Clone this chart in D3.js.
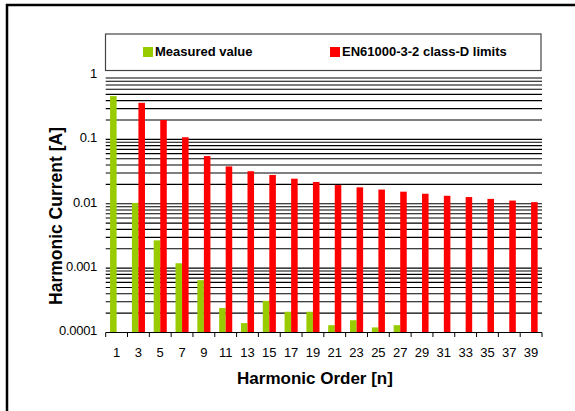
<!DOCTYPE html>
<html>
<head>
<meta charset="utf-8">
<script src="https://cdn.jsdelivr.net/npm/d3@7"></script>
<style>
  body { margin: 0; background: #fff; }
  svg { display: block; font-family: "Liberation Sans", Arial, sans-serif; }
</style>
</head>
<body>
<svg width="575" height="411"></svg>
<script>
// harmonic orders (odd only)
const orders = [1, 3, 5, 7, 9, 11, 13, 15, 17, 19, 21, 23, 25, 27, 29, 31, 33, 35, 37, 39];
// measured harmonic current [A], null = nothing shown
const measured = [0.47, 0.0103, 0.0027, 0.00119, 0.00065, 0.00024, 0.00014, 0.00031, 0.00021, 0.00021,
    0.00013, 0.000155, 0.00012, 0.00013, null, null, null, null, null, null];
// EN61000-3-2 class D limits [A]
const limits = [null, 0.37, 0.2, 0.108, 0.055, 0.038, 0.032, 0.028, 0.0245, 0.0218,
    0.0195, 0.018, 0.0166, 0.0154, 0.0143, 0.0133, 0.0127, 0.0119, 0.0112, 0.0106];
const yTicks = [1, 0.1, 0.01, 0.001, 0.0001];
const seriesNames = ["Measured value", "EN61000-3-2 class-D limits"];
const seriesColors = ["#99cc00", "#ff0000"];

const svg = d3.select("svg");

// outer frame (right and bottom edges fall outside the picture)
svg.append("rect")
    .attr("x", 7).attr("y", 5)
    .attr("width", 620).attr("height", 450)
    .attr("fill", "none").attr("stroke", "#000").attr("stroke-width", 2.5);

const plot = {left: 105.7, right: 542, top: 75, bottom: 332.5};

const x = d3.scaleBand()
    .domain(orders)
    .range([plot.left, plot.right])
    .padding(0);

const xs = d3.scaleBand()
    .domain([0, 1])
    .range([x.bandwidth() * 0.2, x.bandwidth() * 0.8]);

const y = d3.scaleLog()
    .domain([0.0001, 1])
    .range([plot.bottom, plot.top]);

// gridlines: every 1..9 step of each decade
const grid = [];
[0.0001, 0.001, 0.01, 0.1].forEach(d => {
    for (let k = 1; k <= 9; k++) {
        if (d * k > 0.0001) grid.push(d * k);
    }
});
svg.append("g")
    .selectAll("line")
    .data(grid)
    .join("line")
    .attr("x1", plot.left).attr("x2", plot.right)
    .attr("y1", d => y(d)).attr("y2", d => y(d))
    .attr("stroke", "#000").attr("stroke-width", 1.1);

// bars
const rows = orders.map((n, i) => ({n, vals: [measured[i], limits[i]]}));
svg.append("g")
    .selectAll("g")
    .data(rows)
    .join("g")
    .attr("transform", d => `translate(${x(d.n)},0)`)
    .selectAll("rect")
    .data(d => d.vals.map((v, j) => ({v, j})).filter(e => e.v != null))
    .join("rect")
    .attr("x", d => xs(d.j))
    .attr("width", xs.bandwidth())
    .attr("y", d => y(d.v))
    .attr("height", d => y(0.0001) - y(d.v))
    .attr("fill", d => seriesColors[d.j]);

// x axis
const xAxis = svg.append("g")
    .attr("transform", `translate(0,${plot.bottom})`);
xAxis.append("line")
    .attr("x1", plot.left).attr("x2", plot.right)
    .attr("stroke", "#000").attr("stroke-width", 1.2);
xAxis.selectAll("line.tick")
    .data(orders.concat(["end"]))
    .join("line")
    .attr("class", "tick")
    .attr("x1", d => d === "end" ? plot.right : x(d))
    .attr("x2", d => d === "end" ? plot.right : x(d))
    .attr("y1", 0).attr("y2", 4.5)
    .attr("stroke", "#000");
xAxis.selectAll("text")
    .data(orders)
    .join("text")
    .attr("x", d => x(d) + x.bandwidth() / 2)
    .attr("y", 24.5)
    .attr("text-anchor", "middle")
    .attr("font-size", 13)
    .attr("fill", "#000")
    .text(d => d);

// y tick labels
svg.append("g")
    .selectAll("text")
    .data(yTicks)
    .join("text")
    .attr("x", 97)
    .attr("y", d => y(d) + 2.8)
    .attr("text-anchor", "end")
    .attr("font-size", 13)
    .attr("letter-spacing", -0.3)
    .text(d => d);

// axis titles
svg.append("text")
    .attr("x", 315).attr("y", 383.5)
    .attr("text-anchor", "middle")
    .attr("font-size", 17).attr("font-weight", "bold")
    .text("Harmonic Order [n]");
svg.append("text")
    .attr("transform", "translate(62,216) rotate(-90)")
    .attr("text-anchor", "middle")
    .attr("font-size", 17.5).attr("font-weight", "bold")
    .text("Harmonic Current [A]");

// legend
const lg = svg.append("g");
lg.append("rect")
    .attr("x", 105.5).attr("y", 34)
    .attr("width", 435.5).attr("height", 36.5)
    .attr("fill", "#fff").attr("stroke", "#444").attr("stroke-width", 1.2);
const legendX = [143, 330];
seriesNames.forEach((name, i) => {
    lg.append("rect")
        .attr("x", legendX[i]).attr("y", 47)
        .attr("width", 10).attr("height", 10)
        .attr("fill", seriesColors[i]);
    lg.append("text")
        .attr("x", legendX[i] + 12).attr("y", 55.5)
        .attr("font-size", 13).attr("font-weight", "bold")
        .text(name);
});
</script>
</body>
</html>
